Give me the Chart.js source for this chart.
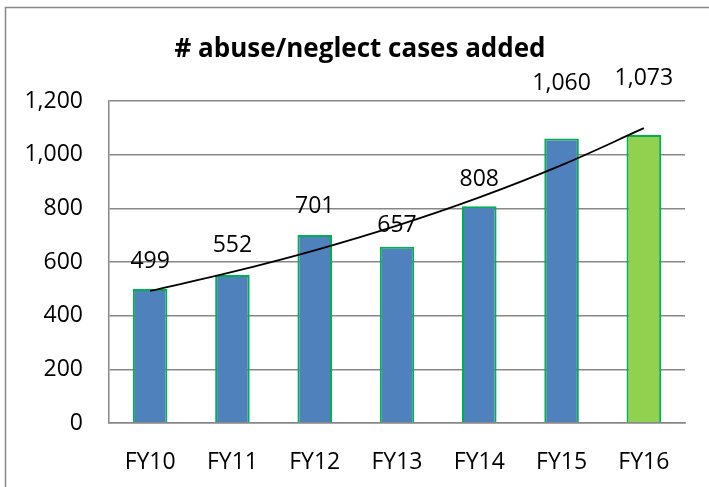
<!DOCTYPE html>
<html>
<head>
<meta charset="utf-8">
<script src="https://cdn.jsdelivr.net/npm/chart.js@4/dist/chart.umd.min.js"></script>
<style>
  html, body { margin: 0; padding: 0; background: #fff; overflow: hidden; }
  #wrap { width: 709px; height: 487px; }
</style>
</head>
<body>
<div id="wrap"><canvas id="chart"></canvas></div>
<script>
// data
const years = ["FY10", "FY11", "FY12", "FY13", "FY14", "FY15", "FY16"];
const casesAdded = [499, 552, 701, 657, 808, 1060, 1073];
const yTicks = [0, 200, 400, 600, 800, 1000, 1200];
const chartTitle = "# abuse/neglect cases added";

const FONT = "'Open Sans', 'Liberation Sans', sans-serif";

// exponential trendline (least squares on ln y), like the Excel one
const n = casesAdded.length;
const lnY = casesAdded.map(v => Math.log(v));
const mx = (n - 1) / 2;
const my = lnY.reduce((a, b) => a + b, 0) / n;
let sxy = 0, sxx = 0;
lnY.forEach((v, i) => { sxy += (i - mx) * (v - my); sxx += (i - mx) * (i - mx); });
const slope = sxy / sxx;
const trend = years.map((_, i) => Math.exp(my + slope * (i - mx)));

// how far each value label sits above its bar (px)
const labelLift = [28, 29, 28, 21, 27, 55, 57];

const valueLabels = {
  id: "valueLabels",
  afterDatasetsDraw(chart) {
    const meta = chart.getDatasetMeta(1);
    const ctx = chart.ctx;
    ctx.save();
    ctx.font = "23px " + FONT;
    ctx.fillStyle = "#000";
    ctx.textAlign = "center";
    ctx.textBaseline = "middle";
    meta.data.forEach((bar, i) => {
      ctx.fillText(casesAdded[i].toLocaleString("en-US"), bar.x, bar.y - labelLift[i]);
    });
    ctx.restore();
  }
};

// outer frame + title (title is centred on the frame, not on the canvas)
const frame = {
  id: "frame",
  beforeDraw(chart) {
    const ctx = chart.ctx;
    ctx.save();
    ctx.strokeStyle = "#878787";
    ctx.lineWidth = 1.5;
    ctx.strokeRect(5.5, 7.5, 800, 600);
    ctx.font = "bold 26px " + FONT;
    ctx.fillStyle = "#000";
    ctx.textAlign = "center";
    ctx.textBaseline = "middle";
    ctx.fillText(chartTitle, 360, 50);
    ctx.restore();
  }
};

new Chart(document.getElementById("chart"), {
  data: {
    labels: years,
    datasets: [
      {
        type: "line",
        data: trend,
        borderColor: "#000",
        borderWidth: 1.8,
        pointRadius: 0,
        tension: 0.4,
        order: 0,
      },
      {
        type: "bar",
        data: casesAdded,
        backgroundColor: years.map((_, i) => i === n - 1 ? "#92D050" : "#4F81BD"),
        borderColor: "#00B050",
        borderWidth: 2,
        barPercentage: 0.42,
        categoryPercentage: 1,
        order: 1,
      },
    ],
  },
  options: {
    responsive: true,
    maintainAspectRatio: false,
    animation: false,
    layout: { padding: { left: 0, right: 24, top: 101, bottom: 0 } },
    plugins: {
      legend: { display: false },
      tooltip: { enabled: false },
      title: { display: false },
    },
    scales: {
      x: {
        grid: { display: false, drawTicks: false },
        border: { color: "#878787", width: 1.5 },
        ticks: { color: "#000", font: { family: FONT, size: 23 }, padding: 26 },
        afterFit(scale) { scale.height = 64; },
      },
      y: {
        min: 0,
        max: 1200,
        afterBuildTicks(scale) { scale.ticks = yTicks.map(v => ({ value: v })); },
        grid: { color: "#878787", lineWidth: 1.5, drawTicks: false },
        border: { color: "#878787", width: 1.5 },
        ticks: {
          color: "#000",
          font: { family: FONT, size: 23 },
          padding: 26,
          callback: v => v.toLocaleString("en-US"),
        },
        afterFit(scale) { scale.width = 109; },
      },
    },
  },
  plugins: [frame, valueLabels],
});
</script>
</body>
</html>
